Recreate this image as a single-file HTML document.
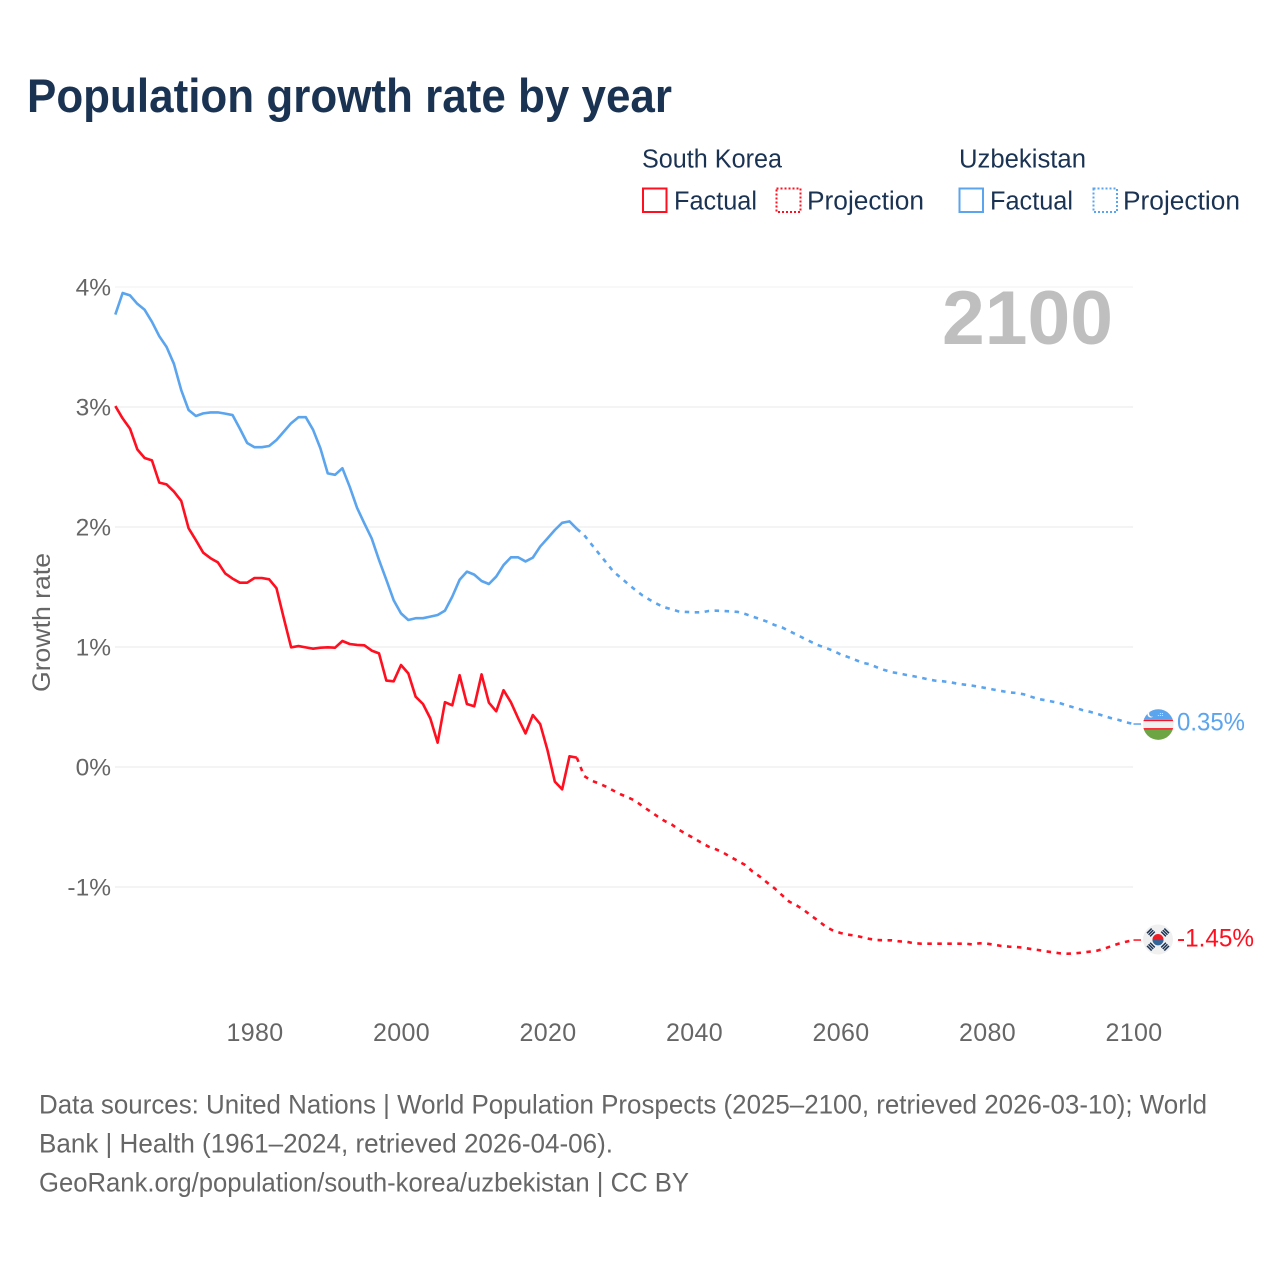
<!DOCTYPE html>
<html lang="en">
<head>
<meta charset="utf-8">
<title>Population growth rate by year</title>
<style>
html,body{margin:0;padding:0;background:#fff;}
svg{display:block;font-family:"Liberation Sans",sans-serif;}
</style>
</head>
<body>
<svg id="chart" width="1280" height="1280" viewBox="0 0 1280 1280" xmlns="http://www.w3.org/2000/svg">
<defs>
<clipPath id="clip-uz"><circle cx="0" cy="0" r="15.3"></circle></clipPath>
</defs>
<rect x="0" y="0" width="1280" height="1280" fill="#ffffff"></rect>
<text x="27" y="112" font-size="47" font-weight="700" fill="#1b3353" textLength="645" lengthAdjust="spacingAndGlyphs">Population growth rate by year</text>

<g font-size="25.5" fill="#1b3353">
<text x="642" y="167.5" textLength="140" lengthAdjust="spacingAndGlyphs">South Korea</text>
<text x="959" y="167.5" textLength="127" lengthAdjust="spacingAndGlyphs">Uzbekistan</text>
<rect x="643" y="188.5" width="23.5" height="23.5" fill="none" stroke="#ff0f1f" stroke-width="2"></rect>
<text x="674" y="209.5" textLength="83" lengthAdjust="spacingAndGlyphs">Factual</text>
<rect x="776.5" y="188.5" width="24" height="23.5" fill="none" stroke="#ff0f1f" stroke-width="2" stroke-dasharray="2 2"></rect>
<text x="807" y="209.5" textLength="117" lengthAdjust="spacingAndGlyphs">Projection</text>
<rect x="959.5" y="188.5" width="23.5" height="23.5" fill="none" stroke="#5ba4ee" stroke-width="2"></rect>
<text x="990" y="209.5" textLength="83" lengthAdjust="spacingAndGlyphs">Factual</text>
<rect x="1093.5" y="188.5" width="23.5" height="23.5" fill="none" stroke="#5ba4ee" stroke-width="2" stroke-dasharray="2 2"></rect>
<text x="1123" y="209.5" textLength="117" lengthAdjust="spacingAndGlyphs">Projection</text>
</g>

<g id="grid"></g>
<g id="y-ticks"></g>
<g id="x-ticks"></g>
<text transform="translate(50,692) rotate(-90)" font-size="25" fill="#666666" textLength="139" lengthAdjust="spacingAndGlyphs">Growth rate</text>
<text x="942" y="344" font-size="76" font-weight="700" fill="#bfbfbf" textLength="171" lengthAdjust="spacingAndGlyphs">2100</text>
<g id="series"></g>

<g id="flag-uz">
<g clip-path="url(#clip-uz)">
<rect x="-16" y="-16" width="32" height="32" fill="#f0f0f0"></rect>
<rect x="-16" y="-16" width="32" height="11" fill="#5ba4ee"></rect>
<rect x="-16" y="-4.8" width="32" height="1.4" fill="#ff1020"></rect>
<rect x="-16" y="3.6" width="32" height="1.4" fill="#ff1020"></rect>
<rect x="-16" y="5" width="32" height="11" fill="#6da544"></rect>
<circle cx="-7.5" cy="-10.5" r="3.4" fill="#ffffff"></circle>
<circle cx="-6.2" cy="-10.8" r="3" fill="#5ba4ee"></circle>
<circle cx="0" cy="-9" r=".5" fill="#ffffff"></circle>
<circle cx="2" cy="-9" r=".5" fill="#ffffff"></circle>
<circle cx="4" cy="-9" r=".5" fill="#ffffff"></circle>
<circle cx="2" cy="-11" r=".5" fill="#ffffff"></circle>
<circle cx="4" cy="-11" r=".5" fill="#ffffff"></circle>
</g>
</g>

<g id="flag-kr">
<circle cx="0" cy="0" r="15" fill="#f0f0f0"></circle>
<circle cx="0" cy="0" r="5.5" fill="#ee1c25"></circle>
<path d="M-5.5 0.3A5.5 5.5 0 0 0 5.5 0.3C3.5 -1 1.5 1.2 -1 0.6C-2.8 0.2 -4 -0.3 -5.5 0.3Z" fill="#336699"></path>
<g fill="#1b3353">
<g transform="rotate(-45)"><rect x="-3.3" y="-13" width="6.6" height="1.5"></rect><rect x="-3.3" y="-10.8" width="6.6" height="1.5"></rect><rect x="-3.3" y="-8.6" width="6.6" height="1.5"></rect></g>
<g transform="rotate(45)"><rect x="-3.3" y="-13" width="6.6" height="1.5"></rect><rect x="-3.3" y="-10.8" width="6.6" height="1.5"></rect><rect x="-3.3" y="-8.6" width="6.6" height="1.5"></rect></g>
<g transform="rotate(135)"><rect x="-3.3" y="-13" width="6.6" height="1.5"></rect><rect x="-3.3" y="-10.8" width="6.6" height="1.5"></rect><rect x="-3.3" y="-8.6" width="6.6" height="1.5"></rect></g>
<g transform="rotate(225)"><rect x="-3.3" y="-13" width="6.6" height="1.5"></rect><rect x="-3.3" y="-10.8" width="6.6" height="1.5"></rect><rect x="-3.3" y="-8.6" width="6.6" height="1.5"></rect></g>
</g>
</g>
<g id="end-labels"></g>

<g font-size="26.5" fill="#666666">
<text x="39" y="1113.5" textLength="1168" lengthAdjust="spacingAndGlyphs">Data sources: United Nations | World Population Prospects (2025–2100, retrieved 2026-03-10); World</text>
<text x="39" y="1152.5" textLength="574" lengthAdjust="spacingAndGlyphs">Bank | Health (1961–2024, retrieved 2026-04-06).</text>
<text x="39" y="1191.5" textLength="650" lengthAdjust="spacingAndGlyphs">GeoRank.org/population/south-korea/uzbekistan | CC BY</text>
</g>
</svg>

<script>
const factualStartYear = 1961;
const projectionStartYear = 2024;
const xTickYears = [1980, 2000, 2020, 2040, 2060, 2080, 2100];
const yTickValues = [-1, 0, 1, 2, 3, 4];
const koreaFactual = [3.008,2.905,2.82,2.647,2.575,2.555,2.37,2.355,2.295,2.217,1.99,1.89,1.786,1.74,1.705,1.613,1.57,1.536,1.536,1.575,1.575,1.564,1.49,1.24,0.997,1.008,0.997,0.986,0.994,0.997,0.994,1.05,1.025,1.017,1.014,0.97,0.947,0.72,0.714,0.85,0.78,0.586,0.525,0.405,0.203,0.54,0.514,0.765,0.525,0.506,0.772,0.536,0.464,0.64,0.54,0.405,0.28,0.433,0.358,0.14,-0.122,-0.186,0.089,0.078];
const koreaProjection = [0.078,-0.075,-0.114,-0.136,-0.164,-0.197,-0.228,-0.253,-0.283,-0.328,-0.369,-0.411,-0.45,-0.481,-0.525,-0.561,-0.594,-0.631,-0.664,-0.686,-0.714,-0.75,-0.783,-0.817,-0.872,-0.914,-0.964,-1.011,-1.067,-1.122,-1.153,-1.192,-1.239,-1.283,-1.331,-1.364,-1.383,-1.397,-1.405,-1.419,-1.433,-1.442,-1.444,-1.444,-1.453,-1.456,-1.469,-1.472,-1.472,-1.472,-1.472,-1.472,-1.472,-1.472,-1.478,-1.469,-1.472,-1.481,-1.492,-1.497,-1.5,-1.506,-1.517,-1.525,-1.536,-1.544,-1.553,-1.556,-1.553,-1.547,-1.539,-1.531,-1.514,-1.492,-1.472,-1.456,-1.442];
const uzbekFactual = [3.77,3.95,3.93,3.86,3.81,3.71,3.59,3.5,3.36,3.14,2.975,2.925,2.947,2.955,2.955,2.945,2.933,2.82,2.7,2.665,2.665,2.675,2.725,2.795,2.865,2.915,2.915,2.81,2.655,2.447,2.435,2.49,2.335,2.16,2.03,1.905,1.725,1.56,1.39,1.28,1.225,1.24,1.24,1.253,1.267,1.303,1.42,1.56,1.628,1.603,1.55,1.525,1.587,1.683,1.747,1.747,1.713,1.745,1.837,1.905,1.975,2.035,2.047,1.985];
const uzbekProjection = [1.985,1.933,1.856,1.78,1.705,1.628,1.578,1.525,1.475,1.428,1.392,1.358,1.33,1.314,1.294,1.292,1.289,1.289,1.3,1.303,1.3,1.297,1.292,1.275,1.253,1.233,1.211,1.183,1.164,1.133,1.103,1.072,1.042,1.014,0.992,0.969,0.939,0.917,0.893,0.869,0.856,0.83,0.808,0.79,0.78,0.767,0.756,0.744,0.73,0.719,0.714,0.706,0.694,0.686,0.678,0.667,0.656,0.644,0.633,0.622,0.617,0.606,0.586,0.567,0.556,0.544,0.531,0.511,0.494,0.475,0.461,0.444,0.425,0.406,0.392,0.372,0.358];
const koreaEndLabel = "-1.45%";
const uzbekEndLabel = "0.35%";

const SVG_NS = "http://www.w3.org/2000/svg";
const RED = "#ff0f1f";
const BLUE = "#5ba4ee";

function xScale(year) { return 1133.5 + (year - 2100) * 7.325; }
function yScale(value) { return 767 - value * 120; }
function make(tag, parent, attrs, text) {
  const el = document.createElementNS(SVG_NS, tag);
  for (const k in attrs) el.setAttribute(k, attrs[k]);
  if (text !== undefined) el.textContent = text;
  parent.appendChild(el);
  return el;
}
function linePath(startYear, values) {
  return values.map(function (v, i) {
    return (i ? "L" : "M") + xScale(startYear + i).toFixed(2) + " " + yScale(v).toFixed(2);
  }).join("");
}

const gridGroup = document.getElementById("grid");
const yTickGroup = document.getElementById("y-ticks");
yTickValues.concat().forEach(function (v) {
  const line = make("line", gridGroup, {
    x1: 115, x2: 1133, y1: yScale(v), y2: yScale(v),
    stroke: v === 4 ? "#f3f3f3" : "#eeeeee", "stroke-width": 1.3
  });
  
  
  const label = make("text", yTickGroup, {
    x: 111, y: yScale(v) + 8.5, "text-anchor": "end", "font-size": 24.5, fill: "#666666"
  }, v + "%");
  
  
});

const xTickGroup = document.getElementById("x-ticks");
xTickYears.forEach(function (year) {
  const label = make("text", xTickGroup, {
    x: xScale(year) + 0.5, y: 1041, "text-anchor": "middle", "font-size": 25, "letter-spacing": 0.35, fill: "#666666"
  }, year);
  
  
});

const seriesGroup = document.getElementById("series");
function drawSeries(name, color, factual, projection) {
  const solid = make("path", seriesGroup, {
    d: linePath(factualStartYear, factual), fill: "none", stroke: color,
    "stroke-width": 2.6, "stroke-linejoin": "round"
  });
  
  
  const dashed = make("path", seriesGroup, {
    d: linePath(projectionStartYear, projection), fill: "none", stroke: color,
    "stroke-width": 2.6, "stroke-dasharray": "4.5 5.5", "stroke-linejoin": "round"
  });
  
  
  const lastY = yScale(projection[projection.length - 1]);
  const connector = make("line", seriesGroup, {
    x1: xScale(2100), x2: 1141, y1: lastY, y2: lastY, stroke: color, "stroke-width": 1.5
  });
  
  
  return lastY;
}
const koreaEndY = drawSeries("south-korea", RED, koreaFactual, koreaProjection);
const uzbekEndY = drawSeries("uzbekistan", BLUE, uzbekFactual, uzbekProjection);

document.getElementById("flag-uz").setAttribute("transform", "translate(1158.3," + (uzbekEndY + 0.5) + ")");
document.getElementById("flag-kr").setAttribute("transform", "translate(1158," + (koreaEndY - 0.5) + ")");

const endGroup = document.getElementById("end-labels");
const uzbekLabel = make("text", endGroup, {
  x: 1177, y: uzbekEndY + 6.5, "font-size": 25, fill: BLUE, textLength: 68, lengthAdjust: "spacingAndGlyphs"
}, uzbekEndLabel);


const koreaLabel = make("text", endGroup, {
  x: 1177, y: koreaEndY + 6.5, "font-size": 25, fill: RED, textLength: 77, lengthAdjust: "spacingAndGlyphs"
}, koreaEndLabel);


</script>
</body>
</html>
